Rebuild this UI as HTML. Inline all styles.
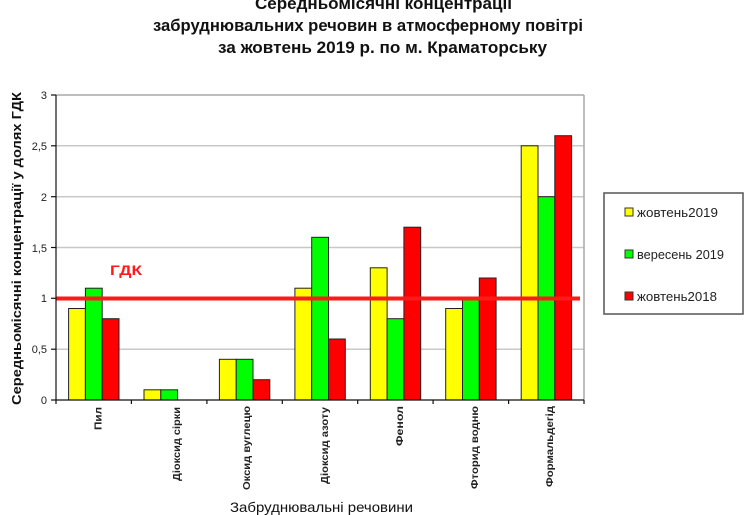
<!DOCTYPE html>
<html>
<head>
<meta charset="utf-8">
<style>
  html,body{margin:0;padding:0;background:#fff;}
  svg{display:block;}
  text{font-family:"Liberation Sans","DejaVu Sans",sans-serif;}
</style>
</head>
<body>
<svg width="755" height="515" viewBox="0 0 755 515" xmlns="http://www.w3.org/2000/svg">
  <rect x="0" y="0" width="755" height="515" fill="#fff"/>

  <!-- Title -->
  <g font-weight="bold" font-size="17" fill="#111">
    <text x="255" y="9" textLength="257" lengthAdjust="spacingAndGlyphs">Середньомісячні концентрації</text>
    <text x="153" y="31" textLength="430" lengthAdjust="spacingAndGlyphs">забруднювальних  речовин  в атмосферному повітрі</text>
    <text x="218" y="53" textLength="329" lengthAdjust="spacingAndGlyphs">за жовтень 2019 р. по м. Краматорську</text>
  </g>

  <!-- Gridlines -->
  <g stroke="#c8c8c8" stroke-width="1.5">
    <line x1="56" y1="349.2" x2="584" y2="349.2"/>
    <line x1="56" y1="247.5" x2="584" y2="247.5"/>
    <line x1="56" y1="196.7" x2="584" y2="196.7"/>
    <line x1="56" y1="145.8" x2="584" y2="145.8"/>
  </g>
  <!-- plot border top/right -->
  <g stroke="#a8a8a8" stroke-width="1.5" fill="none">
    <line x1="56" y1="95" x2="584" y2="95"/>
    <line x1="584" y1="95" x2="584" y2="400"/>
  </g>

  <!-- Bars -->
  <g stroke="#222" stroke-width="1">
    <!-- Пил -->
    <rect x="68.6" y="308.5" width="16.8" height="91.5" fill="#ffff00"/>
    <rect x="85.4" y="288.2" width="16.8" height="111.8" fill="#00ff00"/>
    <rect x="102.2" y="318.7" width="16.8" height="81.3" fill="#ff0000"/>
    <!-- Діоксид сірки -->
    <rect x="144.0" y="389.8" width="16.8" height="10.2" fill="#ffff00"/>
    <rect x="160.8" y="389.8" width="16.8" height="10.2" fill="#00ff00"/>
    <!-- Оксид вуглецю -->
    <rect x="219.4" y="359.3" width="16.8" height="40.7" fill="#ffff00"/>
    <rect x="236.2" y="359.3" width="16.8" height="40.7" fill="#00ff00"/>
    <rect x="253.0" y="379.7" width="16.8" height="20.3" fill="#ff0000"/>
    <!-- Діоксид азоту -->
    <rect x="294.9" y="288.2" width="16.8" height="111.8" fill="#ffff00"/>
    <rect x="311.7" y="237.3" width="16.8" height="162.7" fill="#00ff00"/>
    <rect x="328.5" y="339.0" width="16.8" height="61.0" fill="#ff0000"/>
    <!-- Фенол -->
    <rect x="370.3" y="267.8" width="16.8" height="132.2" fill="#ffff00"/>
    <rect x="387.1" y="318.7" width="16.8" height="81.3" fill="#00ff00"/>
    <rect x="403.9" y="227.2" width="16.8" height="172.8" fill="#ff0000"/>
    <!-- Фторид водню -->
    <rect x="445.7" y="308.5" width="16.8" height="91.5" fill="#ffff00"/>
    <rect x="462.5" y="298.3" width="16.8" height="101.7" fill="#00ff00"/>
    <rect x="479.3" y="278.0" width="16.8" height="122.0" fill="#ff0000"/>
    <!-- Формальдегід -->
    <rect x="521.2" y="145.8" width="16.8" height="254.2" fill="#ffff00"/>
    <rect x="538.0" y="196.7" width="16.8" height="203.3" fill="#00ff00"/>
    <rect x="554.8" y="135.7" width="16.8" height="264.3" fill="#ff0000"/>
  </g>

  <!-- ГДК line -->
  <line x1="56" y1="298.5" x2="580" y2="298.5" stroke="#ff1a1a" stroke-width="4"/>
  <text x="110" y="275" font-size="14" font-weight="bold" fill="#ff1a1a" textLength="32" lengthAdjust="spacingAndGlyphs">ГДК</text>

  <!-- Axes -->
  <g stroke="#111" stroke-width="1.2">
    <line x1="56" y1="95" x2="56" y2="400"/>
    <line x1="56" y1="400" x2="584" y2="400"/>
    <!-- y ticks -->
    <line x1="51" y1="95" x2="56" y2="95"/>
    <line x1="51" y1="145.8" x2="56" y2="145.8"/>
    <line x1="51" y1="196.7" x2="56" y2="196.7"/>
    <line x1="51" y1="247.5" x2="56" y2="247.5"/>
    <line x1="51" y1="298.3" x2="56" y2="298.3"/>
    <line x1="51" y1="349.2" x2="56" y2="349.2"/>
    <line x1="51" y1="400" x2="56" y2="400"/>
    <!-- x ticks -->
    <line x1="56" y1="400" x2="56" y2="404"/>
    <line x1="131.4" y1="400" x2="131.4" y2="404"/>
    <line x1="206.9" y1="400" x2="206.9" y2="404"/>
    <line x1="282.3" y1="400" x2="282.3" y2="404"/>
    <line x1="357.7" y1="400" x2="357.7" y2="404"/>
    <line x1="433.1" y1="400" x2="433.1" y2="404"/>
    <line x1="508.6" y1="400" x2="508.6" y2="404"/>
    <line x1="584" y1="400" x2="584" y2="404"/>
  </g>

  <!-- Y tick labels -->
  <g font-size="11" fill="#222" text-anchor="end">
    <text x="47" y="99">3</text>
    <text x="47" y="150">2,5</text>
    <text x="47" y="201">2</text>
    <text x="47" y="252">1,5</text>
    <text x="47" y="302">1</text>
    <text x="47" y="353">0,5</text>
    <text x="47" y="404">0</text>
  </g>

  <!-- Y axis title -->
  <text transform="translate(21,248.5) rotate(-90)" text-anchor="middle" font-size="12.5" font-weight="bold" fill="#111" textLength="313" lengthAdjust="spacingAndGlyphs">Середньомісячні концентрації у  долях ГДК</text>

  <!-- X category labels -->
  <g font-size="10" font-weight="bold" fill="#222" text-anchor="end">
    <text transform="translate(101.5,407) rotate(-90)" textLength="23" lengthAdjust="spacingAndGlyphs">Пил</text>
    <text transform="translate(180,407) rotate(-90)" textLength="74" lengthAdjust="spacingAndGlyphs">Діоксид сірки</text>
    <text transform="translate(250,406) rotate(-90)" textLength="84" lengthAdjust="spacingAndGlyphs">Оксид вуглецю</text>
    <text transform="translate(328,407) rotate(-90)" textLength="77" lengthAdjust="spacingAndGlyphs">Діоксид азоту</text>
    <text transform="translate(403,406) rotate(-90)" textLength="40" lengthAdjust="spacingAndGlyphs">Фенол</text>
    <text transform="translate(478,406) rotate(-90)" textLength="83" lengthAdjust="spacingAndGlyphs">Фторид водню</text>
    <text transform="translate(553,406) rotate(-90)" textLength="81" lengthAdjust="spacingAndGlyphs">Формальдегід</text>
  </g>

  <!-- X axis title -->
  <text x="230" y="512" font-size="14" fill="#111" textLength="183" lengthAdjust="spacingAndGlyphs">Забруднювальні речовини</text>

  <!-- Legend -->
  <rect x="604" y="193" width="139" height="121" fill="#fff" stroke="#555" stroke-width="1.5"/>
  <g stroke="#333" stroke-width="1">
    <rect x="625" y="208" width="8" height="8" fill="#ffff00"/>
    <rect x="625" y="250" width="8" height="8" fill="#00ff00"/>
    <rect x="625" y="292" width="8" height="8" fill="#ff0000"/>
  </g>
  <g font-size="12.5" fill="#222">
    <text x="637" y="217" textLength="81" lengthAdjust="spacingAndGlyphs">жовтень2019</text>
    <text x="637" y="259" textLength="87" lengthAdjust="spacingAndGlyphs">вересень 2019</text>
    <text x="637" y="301" textLength="80" lengthAdjust="spacingAndGlyphs">жовтень2018</text>
  </g>
</svg>
</body>
</html>
